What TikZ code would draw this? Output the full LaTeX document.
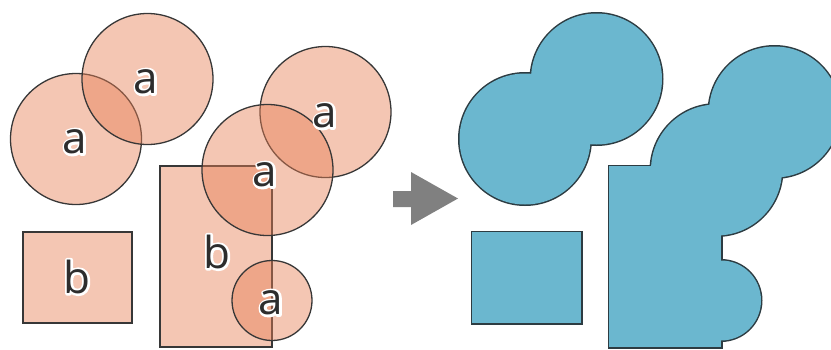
\documentclass[tikz,border=0pt]{standalone}
\usepackage{fontspec}
\setmainfont{Open Sans}
\usetikzlibrary{positioning}
\definecolor{inputfill}{RGB}{231,128,86}
\definecolor{inputedge}{RGB}{55,55,55}
\definecolor{unionfill}{RGB}{107,183,207}
\definecolor{unionedge}{RGB}{45,60,66}
\definecolor{labeltext}{RGB}{45,45,45}
\definecolor{arrowgrey}{RGB}{128,128,128}
% white stroked copy of a glyph, drawn behind the label
\newcommand\halotext[1]{\special{pdf:literal direct 1 1 1 RG 1 j 2 Tr 4.4 w}#1\special{pdf:literal direct 0 Tr}}

\begin{document}
\begin{tikzpicture}[
        x=1pt, y=-1pt,
        input/.style={fill=inputfill, fill opacity=0.45, draw=inputedge, line width=1.3pt},
        lbl/.style={text=labeltext, inner sep=0pt, font=\fontsize{44}{44}\selectfont},
        halo/.style={lbl, text=white},
        outer/.style={draw=unionedge, line width=3pt},
        inner/.style={fill=unionfill},
    ]
        \useasboundingbox (0,0) rectangle (831,349);

        % input layers
        \draw[input] (23,232) rectangle (132,323);
        \draw[input] (160,166) rectangle (272,347);
        \draw[input] (76,139) circle[radius=65.5];
        \draw[input] (147.5,79) circle[radius=65.5];
        \draw[input] (325.5,112) circle[radius=65.5];
        \draw[input] (267.5,170) circle[radius=65.5];
        \draw[input] (272,300.5) circle[radius=40];

        \node[halo] (a1h) at (75,142) {\halotext{a}};
        \node[halo] (a2h) at (146,82) {\halotext{a}};
        \node[halo] (a3h) at (325,116) {\halotext{a}};
        \node[halo] (a4h) at (265,175) {\halotext{a}};
        \node[halo] (a5h) at (271,303) {\halotext{a}};
        \node[halo] (b1h) at (77,277) {\halotext{b}};
        \node[halo] (b2h) at (217,252) {\halotext{b}};

        \node[lbl] (a1) at (a1h) {a};
        \node[lbl] (a2) at (a2h) {a};
        \node[lbl] (a3) at (a3h) {a};
        \node[lbl] (a4) at (a4h) {a};
        \node[lbl] (a5) at (a5h) {a};
        \node[lbl] (b1) at (b1h) {b};
        \node[lbl] (b2) at (b2h) {b};

        % arrow
        \fill[arrowgrey] (393,191) -- (411,191) -- (411,172) -- (458,198.5)
            -- (411,225) -- (411,207) -- (393,207) -- cycle;

        % union result
        \begin{scope}[xshift=449pt]
            \draw[outer] (23,232) rectangle (132,323);
            \draw[outer] (160,166) rectangle (272,347);
            \draw[outer] (76,139) circle[radius=65.5];
            \draw[outer] (147.5,79) circle[radius=65.5];
            \draw[outer] (325.5,112) circle[radius=65.5];
            \draw[outer] (267.5,170) circle[radius=65.5];
            \draw[outer] (272,300.5) circle[radius=40];

            \fill[inner] (23,232) rectangle (132,323);
            \fill[inner] (160,166) rectangle (272,347);
            \fill[inner] (76,139) circle[radius=65.5];
            \fill[inner] (147.5,79) circle[radius=65.5];
            \fill[inner] (325.5,112) circle[radius=65.5];
            \fill[inner] (267.5,170) circle[radius=65.5];
            \fill[inner] (272,300.5) circle[radius=40];
        \end{scope}
    \end{tikzpicture}
\end{document}
